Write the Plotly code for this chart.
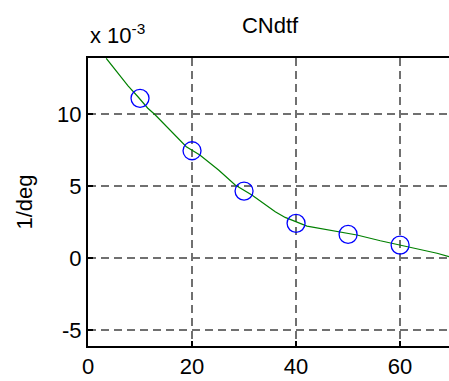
import plotly.graph_objects as go

# data (values in units of 1e-3 1/deg)
marker_x = [10, 20, 30, 40, 50, 60]
marker_y = [11.09, 7.45, 4.65, 2.41, 1.64, 0.90]

curve_x = [3.5, 6.4, 7.7, 9.6, 11.5, 12.8, 16.0, 18.9, 21.5, 25.1, 28.3, 31.5, 36.0, 37.9,
           42.1, 48.5, 51.7, 56.2, 60.0, 67.1, 69.4]
curve_y = [13.87, 12.6, 11.95, 11.2, 10.4, 9.98, 8.77, 7.73, 7.15, 6.11, 5.07, 4.375, 3.22, 2.82,
           2.22, 1.83, 1.60, 1.20, 0.90, 0.33, 0.10]

x_ticks = [0, 20, 40, 60]
y_ticks = [-5, 0, 5, 10]
y_tick_labels = ["-5", "0", "5", "10"]

FONT = "Liberation Sans, Arial, sans-serif"
FS = 22

fig = go.Figure()
fig.add_trace(go.Scatter(x=curve_x, y=curve_y, mode="lines",
                         line=dict(color="#008000", width=1.2), showlegend=False))
fig.add_trace(go.Scatter(x=marker_x, y=marker_y, mode="markers",
                         marker=dict(symbol="circle-open", size=18, color="#0000ff",
                                     line=dict(width=1.3, color="#0000ff")),
                         showlegend=False))

grid = dict(showgrid=True, gridcolor="#707070", griddash="8px,5px", gridwidth=1.5)

fig.update_layout(
    width=449, height=381,
    margin=dict(l=88, r=0, t=58, b=35, autoexpand=False),
    paper_bgcolor="white", plot_bgcolor="white",
    font=dict(family=FONT, size=FS, color="black"),
    title=dict(text="CNdtf", x=270 / 449, xanchor="center", y=1 - 25 / 381, yanchor="middle",
               font=dict(family=FONT, size=FS, color="black")),
    xaxis=dict(range=[0, 69.4], tickvals=x_ticks, ticks="inside", ticklen=5, tickcolor="black",
               tickwidth=1.5, showline=True, linecolor="black", linewidth=2, mirror=True,
               zeroline=False, automargin=False, tickfont=dict(size=FS), **grid),
    yaxis=dict(range=[-6.11, 13.89], tickvals=y_ticks, ticktext=y_tick_labels,
               ticks="inside", ticklen=5, tickcolor="black",
               tickwidth=1.5, showline=True, linecolor="black", linewidth=2, mirror=False,
               zeroline=False, automargin=False, tickfont=dict(size=FS),
               title=dict(text="1/deg", standoff=18, font=dict(size=FS)), **grid),
    annotations=[dict(text="x 10<sup>-3</sup>", xref="paper", yref="paper",
                      x=0, y=1.0, xanchor="left", yanchor="bottom", yshift=8,
                      showarrow=False, font=dict(family=FONT, size=FS, color="black"))],
)

fig.write_html("out.html", config={"displayModeBar": False},
               post_script="document.body.style.margin='0';document.body.style.overflow='hidden';")
